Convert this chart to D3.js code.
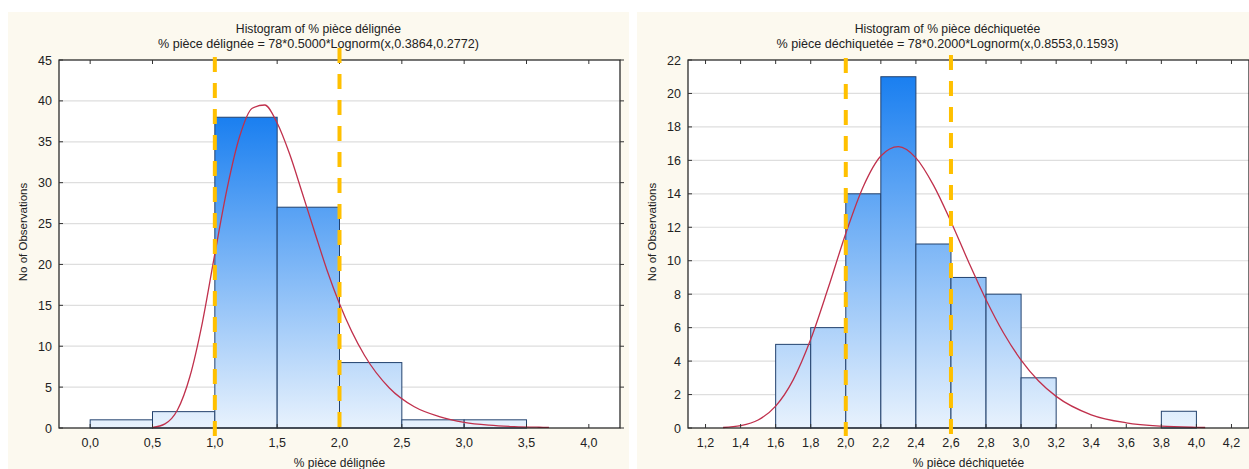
<!DOCTYPE html>
<html lang="en">

<head>
    <meta charset="UTF-8">
    <title>Histograms</title>
    <script src="https://d3js.org/d3.v7.min.js"></script>
    <style>
        body {
            margin: 0;
            background: #ffffff;
        }

        text {
            font-family: "Liberation Sans", Arial, sans-serif;
            fill: #222;
        }
    </style>
</head>

<body>
    <svg id="chart" width="1249" height="469"></svg>

    <script>
        // ---- data: % pièce délignée ----
        const leftBinStarts = [0.0, 0.5, 1.0, 1.5, 2.0, 2.5, 3.0];
        const leftCounts = [1, 2, 38, 27, 8, 1, 1];
        const leftCurveX = [0.5, 0.6, 0.7, 0.8, 0.9, 1.0, 1.1, 1.2, 1.3, 1.4, 1.5, 1.6, 1.7, 1.8, 1.9, 2.0, 2.2, 2.4, 2.6, 2.8, 3.0, 3.2, 3.4, 3.6, 3.68];
        const leftCurveY = [0.06, 0.5, 2.2, 6.3, 12.9, 21.3, 29.4, 35.7, 39.1, 39.5, 37.3, 33.5, 28.8, 24.0, 19.3, 15.2, 8.9, 4.9, 2.6, 1.4, 0.7, 0.35, 0.17, 0.09, 0.07];
        const leftMarkers = [1.0, 2.0];
        const leftTicksX = [0, 0.5, 1, 1.5, 2, 2.5, 3, 3.5, 4];
        const leftTicksY = [0, 5, 10, 15, 20, 25, 30, 35, 40, 45];

        // ---- data: % pièce déchiquetée ----
        const rightBinStarts = [1.6, 1.8, 2.0, 2.2, 2.4, 2.6, 2.8, 3.0, 3.8];
        const rightCounts = [5, 6, 14, 21, 11, 9, 8, 3, 1];
        const rightCurveX = [1.3, 1.4, 1.5, 1.6, 1.7, 1.8, 1.9, 2.0, 2.1, 2.2, 2.3, 2.4, 2.5, 2.6, 2.7, 2.8, 2.9, 3.0, 3.1, 3.2, 3.4, 3.6, 3.8, 4.0, 4.05];
        const rightCurveY = [0.03, 0.14, 0.48, 1.31, 2.88, 5.3, 8.38, 11.63, 14.44, 16.26, 16.82, 16.15, 14.52, 12.33, 9.94, 7.67, 5.68, 4.06, 2.81, 1.89, 0.79, 0.31, 0.11, 0.04, 0.03];
        const rightMarkers = [2.0, 2.6];
        const rightTicksX = [1.2, 1.4, 1.6, 1.8, 2.0, 2.2, 2.4, 2.6, 2.8, 3.0, 3.2, 3.4, 3.6, 3.8, 4.0, 4.2];
        const rightTicksY = [0, 2, 4, 6, 8, 10, 12, 14, 16, 18, 20, 22];

        const svg = d3.select("#chart");
        const defs = svg.append("defs");

        function drawPanel(cfg) {
            const g = svg.append("g");
            const panelW = 621;
            const left = cfg.x0 + 51, right = cfg.x0 + 612;
            const top = 60, bottom = 428;

            g.append("rect")
                .attr("x", cfg.x0).attr("y", 12)
                .attr("width", panelW).attr("height", 470)
                .attr("fill", "#fcf9ef");

            const x = d3.scaleLinear().domain(cfg.xDomain).range([left, right]);
            const y = d3.scaleLinear().domain(cfg.yDomain).range([bottom, top]);

            g.append("rect")
                .attr("x", left).attr("y", top)
                .attr("width", right - left).attr("height", bottom - top)
                .attr("fill", "#ffffff");

            // grid lines
            g.selectAll("line.grid")
                .data(cfg.ticksY.slice(1, -1))
                .enter().append("line")
                .attr("x1", left).attr("x2", right)
                .attr("y1", d => y(d)).attr("y2", d => y(d))
                .attr("stroke", "#dedede").attr("stroke-width", 1.2);

            // gradient in user space so short bars stay pale
            const gradId = "grad" + cfg.id;
            const grad = defs.append("linearGradient")
                .attr("id", gradId)
                .attr("gradientUnits", "userSpaceOnUse")
                .attr("x1", 0).attr("x2", 0)
                .attr("y1", y(d3.max(cfg.counts))).attr("y2", y(0));
            grad.append("stop").attr("offset", "0%").attr("stop-color", "#1a7ff0");
            grad.append("stop").attr("offset", "100%").attr("stop-color", "#e8f2fd");

            const bins = cfg.binStarts.map((s, i) => ({ x0: s, x1: s + cfg.binWidth, n: cfg.counts[i] }));
            g.selectAll("rect.bar")
                .data(bins)
                .enter().append("rect")
                .attr("x", d => x(d.x0))
                .attr("y", d => y(d.n))
                .attr("width", d => x(d.x1) - x(d.x0))
                .attr("height", d => y(0) - y(d.n))
                .attr("fill", `url(#${gradId})`)
                .attr("stroke", "#23426e")
                .attr("stroke-width", 1);

            // fitted curve
            const pts = cfg.curveX.map((v, i) => [v, cfg.curveY[i]]);
            g.append("path")
                .datum(pts)
                .attr("d", d3.line().x(d => x(d[0])).y(d => y(d[1])).curve(d3.curveMonotoneX))
                .attr("fill", "none")
                .attr("stroke", "#c0304c")
                .attr("stroke-width", 1.3);

            // frame
            g.append("rect")
                .attr("x", left).attr("y", top)
                .attr("width", right - left).attr("height", bottom - top)
                .attr("fill", "none").attr("stroke", "#1a1a1a").attr("stroke-width", 1.2);

            // x ticks, inward on top and bottom
            cfg.ticksX.forEach(t => {
                g.append("line").attr("x1", x(t)).attr("x2", x(t)).attr("y1", top).attr("y2", top + 4).attr("stroke", "#333");
                g.append("line").attr("x1", x(t)).attr("x2", x(t)).attr("y1", bottom).attr("y2", bottom - 4).attr("stroke", "#333");
            });
            g.selectAll("text.xt")
                .data(cfg.ticksX)
                .enter().append("text")
                .attr("x", d => x(d)).attr("y", bottom + 19)
                .attr("text-anchor", "middle")
                .attr("font-size", "12.5px")
                .text(d => d3.format(".1f")(d).replace(".", ","));

            // y ticks
            cfg.ticksY.forEach(t => {
                g.append("line").attr("x1", left).attr("x2", left + 4).attr("y1", y(t)).attr("y2", y(t)).attr("stroke", "#333");
                g.append("line").attr("x1", right).attr("x2", right + 4).attr("y1", y(t)).attr("y2", y(t)).attr("stroke", "#333");
            });
            g.selectAll("text.yt")
                .data(cfg.ticksY)
                .enter().append("text")
                .attr("x", left - 7).attr("y", d => y(d) + 4.5)
                .attr("text-anchor", "end")
                .attr("font-size", "12.5px")
                .text(d => d);

            // titles
            const cx = cfg.x0 + panelW / 2;
            g.append("text").attr("x", cx).attr("y", 33)
                .attr("text-anchor", "middle").attr("font-size", "12.2px")
                .text(cfg.title);
            g.append("text").attr("x", cx).attr("y", 48)
                .attr("text-anchor", "middle").attr("font-size", "12.6px")
                .text(cfg.subtitle);
            g.append("text").attr("x", (left + right) / 2).attr("y", 467)
                .attr("text-anchor", "middle").attr("font-size", "12px")
                .text(cfg.xLabel);
            g.append("text")
                .attr("transform", `translate(${cfg.x0 + 19},232) rotate(-90)`)
                .attr("text-anchor", "middle").attr("font-size", "11.5px")
                .text("No of Observations");

            // yellow dashed markers
            cfg.markers.forEach((m, i) => {
                g.append("line")
                    .attr("x1", x(m)).attr("x2", x(m))
                    .attr("y1", cfg.markerTops[i]).attr("y2", 436)
                    .attr("stroke", "#ffc000")
                    .attr("stroke-width", 4)
                    .attr("stroke-dasharray", "15,11");
            });
        }

        drawPanel({
            id: "L", x0: 8,
            xDomain: [-0.25, 4.25], yDomain: [0, 45],
            binStarts: leftBinStarts, counts: leftCounts, binWidth: 0.5,
            curveX: leftCurveX, curveY: leftCurveY,
            markers: leftMarkers, markerTops: [57, 48],
            ticksX: leftTicksX, ticksY: leftTicksY,
            title: "Histogram of % pièce délignée",
            subtitle: "% pièce délignée = 78*0.5000*Lognorm(x,0.3864,0.2772)",
            xLabel: "% pièce délignée"
        });

        drawPanel({
            id: "R", x0: 637,
            xDomain: [1.1, 4.3], yDomain: [0, 22],
            binStarts: rightBinStarts, counts: rightCounts, binWidth: 0.2,
            curveX: rightCurveX, curveY: rightCurveY,
            markers: rightMarkers, markerTops: [58, 55],
            ticksX: rightTicksX, ticksY: rightTicksY,
            title: "Histogram of % pièce déchiquetée",
            subtitle: "% pièce déchiquetée = 78*0.2000*Lognorm(x,0.8553,0.1593)",
            xLabel: "% pièce déchiquetée"
        });
    </script>
</body>

</html>
